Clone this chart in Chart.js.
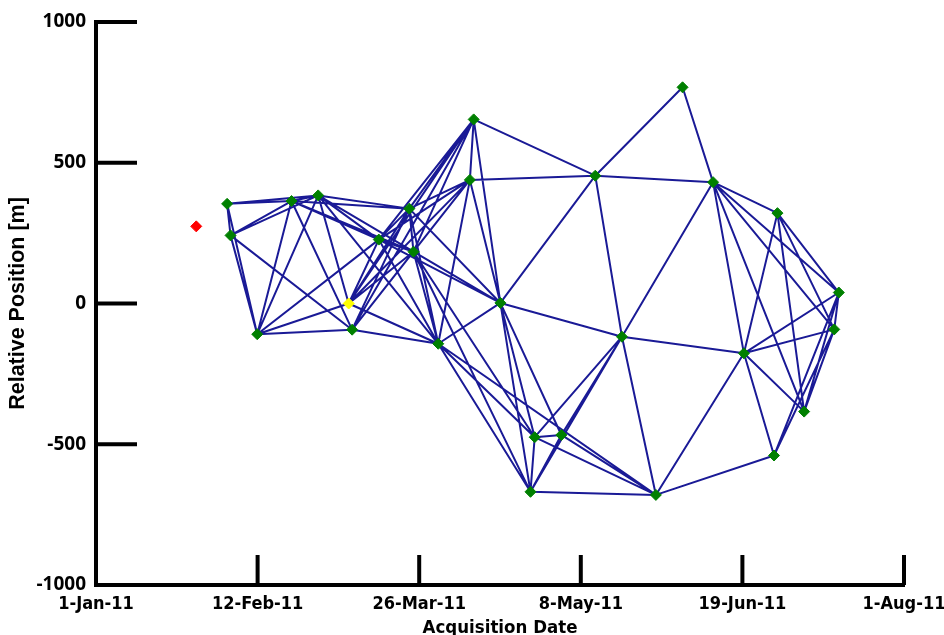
<!DOCTYPE html>
<html lang="en">
<head>
<meta charset="utf-8" />
<title>Acquisition network</title>
<script src="https://cdn.jsdelivr.net/npm/chart.js@4.4.1/dist/chart.umd.min.js"></script>
<style>
  html, body { margin: 0; padding: 0; background: #fff; }
</style>
</head>
<body>
<canvas id="network" width="944" height="635"></canvas>
<script>
  // acquisition dates, in days after 1-Jan-11
  const acqDays = [34.4, 35.3, 42.3, 51.3, 58.3, 66.3, 67.2, 74.2, 82.2, 83.3, 89.8, 98.1, 99.1, 106.1,
                   114.0, 115.1, 122.1, 131.0, 138.0, 146.9, 153.9, 161.9, 170.0, 177.9, 178.8, 185.8, 193.7, 194.9];
  // relative position of each acquisition [m]
  const relPosition = [354, 242, -109, 364, 384, 0, -93, 227, 337, 184, -143, 439, 654, 2,
                       -669, -475, -467, 454, -118, -680, 768, 431, -177, -540, 321, -384, -92, 39];
  const masterIndex = 5; // reference image, drawn yellow
  // image left out of the network (red)
  const droppedDays = [26.3];
  const droppedPosition = [274];

  // interferometric pairs, as indices into acqDays / relPosition
  const pairs = [
    [0,1],[0,2],[0,3],[0,4],
    [1,2],[1,3],[1,4],[1,6],
    [2,3],[2,4],[2,5],[2,6],[2,7],
    [3,4],[3,6],[3,7],[3,8],[3,9],
    [4,5],[4,7],[4,8],[4,9],[4,10],
    [5,7],[5,8],[5,9],[5,10],[5,11],[5,12],
    [6,8],[6,9],[6,10],[6,11],[6,12],
    [7,8],[7,9],[7,10],[7,11],[7,12],[7,13],
    [8,9],[8,10],[8,11],[8,12],[8,13],
    [9,10],[9,11],[9,12],[9,13],[9,14],[9,15],
    [10,11],[10,13],[10,14],[10,15],[10,19],
    [11,12],[11,13],[11,17],
    [12,13],[12,17],
    [13,14],[13,15],[13,16],[13,17],[13,18],
    [14,15],[14,16],[14,18],[14,19],
    [15,16],[15,18],[15,19],
    [16,18],[16,19],
    [17,18],[17,20],[17,21],
    [18,19],[18,21],[18,22],
    [19,22],[19,23],
    [20,21],
    [21,22],[21,24],[21,25],[21,26],[21,27],
    [22,23],[22,24],[22,25],[22,26],[22,27],
    [23,26],[23,27],
    [24,25],[24,26],[24,27],
    [25,26],[25,27],
    [26,27]
  ];

  const tickDays = [0, 42.4, 84.8, 127.2, 169.6, 212];
  const tickLabels = ['1-Jan-11', '12-Feb-11', '26-Mar-11', '8-May-11', '19-Jun-11', '1-Aug-11'];
  const yTicks = [-1000, -500, 0, 500, 1000];

  // one line dataset for all pairs, broken with null points
  const edgePoints = [];
  pairs.forEach(([a, b]) => {
    edgePoints.push({x: acqDays[a], y: relPosition[a]});
    edgePoints.push({x: acqDays[b], y: relPosition[b]});
    edgePoints.push({x: acqDays[b], y: null});
  });

  const nodePoints = acqDays.map((d, i) => ({x: d, y: relPosition[i]}));
  const nodeColors = acqDays.map((d, i) => i === masterIndex ? '#ffff00' : '#008000');

  // tick marks of the original point inwards, so draw them ourselves
  const inwardTicks = {
    id: 'inwardTicks',
    beforeDatasetsDraw(chart) {
      const {ctx, chartArea, scales} = chart;
      ctx.save();
      ctx.strokeStyle = '#000';
      ctx.lineWidth = 4;
      tickDays.forEach(d => {
        const px = scales.x.getPixelForValue(d);
        ctx.beginPath();
        ctx.moveTo(px, chartArea.bottom);
        ctx.lineTo(px, chartArea.bottom - 30);
        ctx.stroke();
      });
      yTicks.forEach(v => {
        const py = scales.y.getPixelForValue(v);
        ctx.beginPath();
        ctx.moveTo(chartArea.left, py);
        ctx.lineTo(chartArea.left + 41, py);
        ctx.stroke();
      });
      ctx.restore();
    }
  };

  const narrow = '"DejaVu Sans Condensed", "Liberation Sans Narrow", sans-serif';

  new Chart(document.getElementById('network'), {
    type: 'scatter',
    data: {
      datasets: [
        {
          data: nodePoints,
          pointStyle: 'rectRot',
          pointRadius: 5.5,
          pointBackgroundColor: nodeColors,
          pointBorderColor: nodeColors,
          pointBorderWidth: 1,
          order: 0
        },
        {
          data: droppedDays.map((d, i) => ({x: d, y: droppedPosition[i]})),
          pointStyle: 'rectRot',
          pointRadius: 5.5,
          pointBackgroundColor: '#ff0000',
          pointBorderColor: '#ff0000',
          pointBorderWidth: 1,
          order: 0
        },
        {
          data: edgePoints,
          showLine: true,
          spanGaps: false,
          borderColor: '#1a1a96',
          borderWidth: 2,
          pointRadius: 0,
          order: 1
        }
      ]
    },
    options: {
      responsive: false,
      animation: false,
      events: [],
      devicePixelRatio: 1,
      layout: { padding: { top: 22, right: 40, bottom: 0, left: 0 } },
      plugins: { legend: { display: false }, tooltip: { enabled: false } },
      scales: {
        x: {
          type: 'linear',
          min: 0,
          max: 212,
          afterBuildTicks: s => { s.ticks = tickDays.map(v => ({value: v})); },
          afterFit: s => { s.height = 50; s.paddingLeft = 0; s.paddingRight = 0; },
          grid: { display: false, drawTicks: false },
          border: { display: true, width: 4, color: '#000' },
          ticks: {
            autoSkip: false,
            maxRotation: 0,
            padding: 9,
            color: '#000',
            font: { family: narrow, size: 18, weight: 'bold' },
            callback: (v, i) => tickLabels[i]
          },
          title: {
            display: true,
            text: 'Acquisition Date',
            color: '#000',
            font: { family: narrow, size: 18.5, weight: 'bold' },
            padding: { top: 0, bottom: -4 }
          }
        },
        y: {
          min: -1000,
          max: 1000,
          afterBuildTicks: s => { s.ticks = yTicks.map(v => ({value: v})); },
          afterFit: s => { s.width = 96; s.paddingTop = 0; s.paddingBottom = 0; },
          grid: { display: false, drawTicks: false },
          border: { display: true, width: 4, color: '#000' },
          ticks: {
            padding: 10,
            color: '#000',
            font: { family: '"Open Sans", sans-serif', size: 19, weight: 'bold' },
            callback: v => String(v)
          },
          title: {
            display: true,
            text: 'Relative Position [m]',
            color: '#000',
            font: { family: '"Liberation Sans", Arial, sans-serif', size: 21.5, weight: 'bold' },
            padding: { top: 5, bottom: 0 }
          }
        }
      }
    },
    plugins: [inwardTicks]
  });
</script>
</body>
</html>
